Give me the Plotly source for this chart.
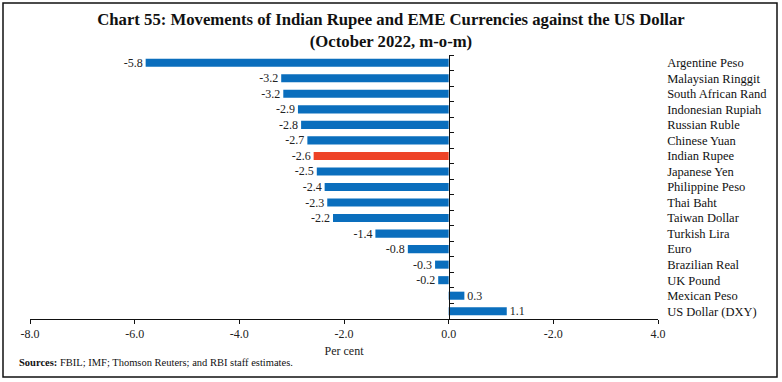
import plotly.graph_objects as go

categories = ["Argentine Peso", "Malaysian Ringgit", "South African Rand", "Indonesian Rupiah",
              "Russian Ruble", "Chinese Yuan", "Indian Rupee", "Japanese Yen", "Philippine Peso",
              "Thai Baht", "Taiwan Dollar", "Turkish Lira", "Euro", "Brazilian Real", "UK Pound",
              "Mexican Peso", "US Dollar (DXY)"]
values = [-5.79, -3.20, -3.16, -2.88, -2.82, -2.70, -2.58, -2.52, -2.37, -2.32, -2.21,
          -1.40, -0.78, -0.26, -0.20, 0.30, 1.11]
highlight = "Indian Rupee"
tick_vals = [-8, -6, -4, -2, 0, 2, 4]
tick_text = ["-8.0", "-6.0", "-4.0", "-2.0", "0.0", "-2.0", "4.0"]

BLUE = "#0A6EBD"
RED = "#EE4327"
colors = [RED if c == highlight else BLUE for c in categories]

W, H = 782, 382
ML, MR, MT, MB = 30, 124, 55, 63
pw, ph = W - ML - MR, H - MT - MB
xmin, xmax = -8, 4

def px_x(p):
    return (p - ML) / pw

def px_y(p):
    return (H - MB - p) / ph

SERIF = "Liberation Serif"

fig = go.Figure()
fig.add_trace(go.Bar(
    x=values, y=categories, orientation="h",
    marker=dict(color=colors, line=dict(width=0)),
    width=0.52,
    text=[f"{v:.1f}" for v in values], textposition="outside",
    constraintext="none",
    textfont=dict(family=SERIF, size=12, color="#222222"),
    cliponaxis=False, hoverinfo="x+y",
))

fig.update_layout(
    width=W, height=H,
    margin=dict(l=ML, r=MR, t=MT, b=MB, autoexpand=False),
    paper_bgcolor="white", plot_bgcolor="white",
    showlegend=False,
    title=dict(
        text="<b>Chart 55: Movements of Indian Rupee and EME Currencies against the US Dollar</b><br><b>(October 2022, m-o-m)</b>",
        x=0.5, xref="container", xanchor="center",
        y=1 - 25 / H, yref="container", yanchor="top",
        font=dict(family=SERIF, size=16.7, color="#111111"),
    ),
    xaxis=dict(
        range=[xmin, xmax], tickvals=tick_vals, ticktext=tick_text,
        showline=True, linecolor="#111111", linewidth=1,
        ticks="outside", ticklen=4, tickcolor="#111111",
        showgrid=False, zeroline=False, automargin=False,
        tickfont=dict(family=SERIF, size=12, color="#222222"),
        title=dict(text="Per cent", font=dict(family=SERIF, size=12, color="#222222"), standoff=6),
    ),
    yaxis=dict(
        categoryorder="array", categoryarray=categories, autorange="reversed",
        anchor="free", position=(0 - xmin) / (xmax - xmin), side="right",
        showline=True, linecolor="#111111", linewidth=1,
        ticks="outside", ticklen=4, tickcolor="#111111", tickson="boundaries",
        showgrid=False, zeroline=False, automargin=False,
        ticklabelstandoff=215,
        tickfont=dict(family=SERIF, size=12.5, color="#111111"),
    ),
    bargap=0.45,
)

fig.add_annotation(
    text="<b>Sources:</b> FBIL; IMF; Thomson Reuters; and RBI staff estimates.",
    xref="paper", yref="paper", x=px_x(17), y=px_y(362), xanchor="left", yanchor="middle",
    showarrow=False, font=dict(family=SERIF, size=10.5, color="#111111"),
)

fig.add_shape(type="rect", xref="paper", yref="paper",
              x0=px_x(3), x1=px_x(777), y0=px_y(377), y1=px_y(3),
              line=dict(color="#111111", width=1.5), layer="above")

fig.write_html("out.html", config={"displayModeBar": False},
               post_script="document.body.style.margin='0';document.body.style.overflow='hidden';")
